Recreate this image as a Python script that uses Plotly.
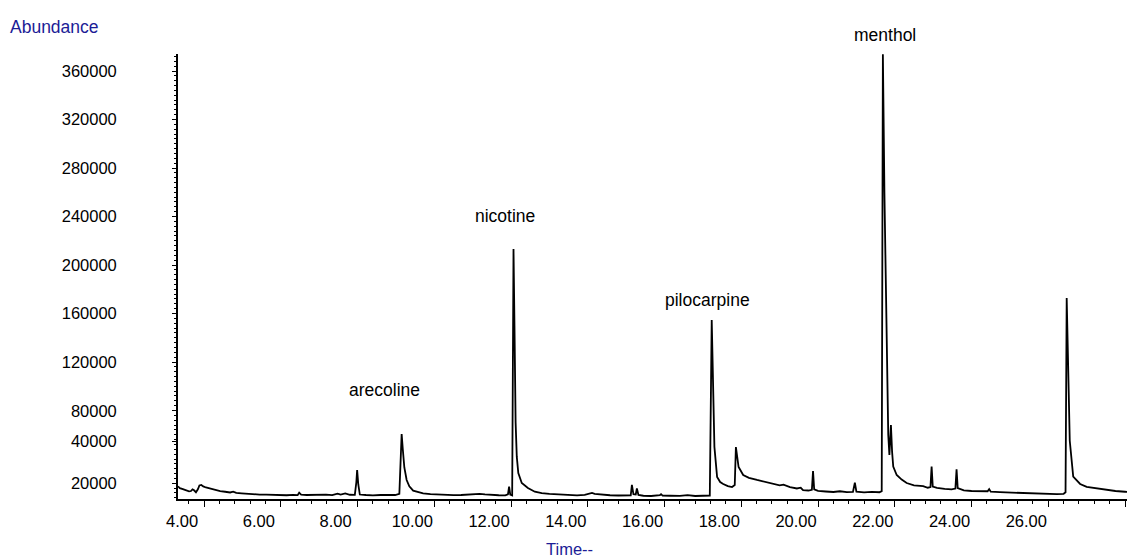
import plotly.graph_objects as go

# ---- data (retention time in min, abundance) ----
times = [
    3.32, 3.37, 3.43, 3.49, 3.55, 3.61, 3.66, 3.70, 3.74, 3.79, 3.84, 3.88, 3.93, 3.98,
    4.05, 4.12, 4.20, 4.30, 4.42, 4.55, 4.68, 4.76, 4.84, 4.98, 5.12, 5.28, 5.45, 5.62,
    5.80, 5.98, 6.15, 6.32, 6.44, 6.48, 6.53, 6.68, 6.85, 7.02, 7.18, 7.34, 7.48, 7.56,
    7.68, 7.80, 7.93, 7.97, 7.99, 8.02, 8.06, 8.22, 8.40, 8.60, 8.80, 8.98, 9.09, 9.12,
    9.15, 9.18, 9.22, 9.28, 9.35, 9.45, 9.58, 9.71, 9.90, 10.10, 10.30, 10.50, 10.70,
    10.90, 11.05, 11.18, 11.32, 11.50, 11.68, 11.85, 11.92, 11.95, 11.98, 12.03, 12.065,
    12.09, 12.12, 12.15, 12.19, 12.28, 12.44, 12.62, 12.80, 13.00, 13.28, 13.50, 13.72,
    13.92, 14.06, 14.11, 14.18, 14.36, 14.58, 14.80, 15.00, 15.12, 15.15, 15.19, 15.25,
    15.28, 15.32, 15.45, 15.65, 15.88, 15.91, 15.95, 16.15, 16.40, 16.60, 16.80, 17.00,
    17.18, 17.23, 17.26, 17.30, 17.37, 17.45, 17.53, 17.65, 17.76, 17.83, 17.86, 17.89,
    17.93, 18.05, 18.20, 18.41, 18.60, 18.83, 19.00, 19.10, 19.18, 19.27, 19.45, 19.55,
    19.61, 19.75, 19.84, 19.87, 19.90, 20.00, 20.20, 20.40, 20.57, 20.75, 20.91, 20.96,
    21.00, 21.20, 21.40, 21.60, 21.66, 21.69, 21.73, 21.78, 21.83, 21.86, 21.90, 21.93,
    21.96, 22.05, 22.18, 22.31, 22.50, 22.74, 22.86, 22.93, 22.96, 22.99, 23.10, 23.30,
    23.48, 23.58, 23.61, 23.64, 23.80, 24.00, 24.22, 24.42, 24.46, 24.50, 24.74, 25.00,
    25.28, 25.52, 25.80, 26.02, 26.22, 26.40, 26.45, 26.48, 26.51, 26.56, 26.65, 26.83,
    27.00, 27.17, 27.35, 27.53, 27.75, 28.00, 28.26,
]
abundance = [
    17500, 16000, 15300, 14500, 14100, 13300, 13600, 15000, 14200, 12600, 15000, 18200, 18600, 17400,
    16500, 15900, 15100, 14300, 13500, 13000, 12400, 13100, 12000, 11700, 11300, 11000, 10700, 10600,
    10300, 10500, 10100, 10400, 10200, 12300, 10700, 10300, 10500, 10100, 10600, 10200, 11400, 10700,
    11600, 10500, 10400, 21000, 30900, 19000, 10700, 10300, 10000, 10300, 10000, 10300, 11200, 30000,
    60600, 48000, 33000, 22700, 17500, 13900, 12600, 11700, 11000, 10600, 10400, 10200, 10300,
    10600, 11000, 11300, 10800, 10300, 10100, 10000, 10800, 17200, 10600, 10000, 213200,
    150000, 70000, 41900, 28400, 20200, 16100, 13000, 11800, 11200, 10600, 10200, 10000,
    10400, 11400, 12000, 11300, 10500, 10100, 9900, 9700, 10000, 18600, 11000, 10700,
    15800, 10300, 9700, 9500, 10100, 11000, 9800, 9700, 9600, 10200, 9500, 9700,
    9800, 154600, 100000, 50000, 25200, 21000, 19400, 17600, 16900, 18500, 49900, 42000,
    33400, 26800, 24500, 22700, 21300, 19400, 18200, 18900, 17800, 16900, 15700, 16300,
    14400, 14000, 14600, 30100, 15000, 13700, 13200, 12800, 13400, 12600, 12900, 20400,
    13000, 12500, 12900, 12600, 13500, 373800, 260000, 140000, 60000, 43300, 68000, 46000,
    33700, 26800, 23000, 20200, 18300, 17700, 16300, 16800, 33700, 17200, 16200, 15300,
    14900, 15600, 31500, 16000, 14200, 13600, 13200, 13400, 15200, 13000, 12600, 12300,
    11900, 11700, 11300, 11500, 11000, 11300, 12500, 172800, 120000, 55000, 25400, 19400,
    17000, 16100, 15200, 14400, 13600, 13000, 12200,
]

# peak names and where their labels sit (time, abundance)
peak_names = ["arecoline", "nicotine", "pilocarpine"]
peak_label_t = [8.69, 11.84, 17.13]
peak_label_y = [96900, 240400, 171100]
top_peak_name = "menthol"
top_peak_t = 21.75

x_tick_vals = [4, 6, 8, 10, 12, 14, 16, 18, 20, 22, 24, 26, 28]
x_tick_labels = ["4.00", "6.00", "8.00", "10.00", "12.00", "14.00", "16.00",
                 "18.00", "20.00", "22.00", "24.00", "26.00", ""]
y_tick_vals = [20000, 54845, 79600, 120000, 160000, 200000, 240000, 280000, 320000, 360000]
y_tick_labels = ["20000", "40000", "80000", "120000", "160000", "200000",
                 "240000", "280000", "320000", "360000"]

x_range = [3.322, 28.26]
y_range = [7010, 374020]

FONT = "Liberation Sans, Arial, sans-serif"
BLUE = "#1c1c96"

fig = go.Figure()
fig.add_trace(go.Scatter(
    x=times, y=abundance, mode="lines",
    line=dict(color="black", width=1.8),
    hoverinfo="skip", showlegend=False,
))

annotations = []
for name, t, y in zip(peak_names, peak_label_t, peak_label_y):
    annotations.append(dict(x=t, y=y, xref="x", yref="y", text=name, showarrow=False,
                            font=dict(family=FONT, size=17.5, color="black")))
annotations.append(dict(x=top_peak_t, y=1.0697, xref="x", yref="paper", text=top_peak_name,
                        showarrow=False, font=dict(family=FONT, size=17.5, color="black")))
annotations.append(dict(x=-0.178, y=1.0607, xref="paper", yref="paper", text="Abundance",
                        xanchor="left", yanchor="middle", showarrow=False,
                        font=dict(family=FONT, size=17.5, color=BLUE)))
annotations.append(dict(x=0.4086, y=-0.1124, xref="paper", yref="paper", text="Time--",
                        xanchor="center", yanchor="middle", showarrow=False,
                        font=dict(family=FONT, size=16.5, color=BLUE)))

# the page body has an 8px default margin, so the figure is 8px smaller
fig.update_layout(
    width=1127, height=552, autosize=False,
    margin=dict(l=170, r=0, t=46, b=61, pad=0),
    paper_bgcolor="white", plot_bgcolor="white",
    font=dict(family=FONT, size=16.5, color="black"),
    annotations=annotations,
    showlegend=False,
)
fig.update_xaxes(
    range=x_range, showgrid=False, zeroline=False,
    showline=True, linecolor="black", linewidth=1.5,
    tickmode="array", tickvals=x_tick_vals, ticktext=x_tick_labels,
    ticks="outside", ticklen=6, tickwidth=1.2, tickcolor="black",
    ticklabelshift=-22, ticklabelstandoff=0,
    tickfont=dict(family=FONT, size=16.5, color="black"),
    minor=dict(tickmode="linear", tick0=0, dtick=0.4, ticks="outside",
               ticklen=3, tickwidth=1, tickcolor="black"),
)
fig.update_yaxes(
    range=y_range, showgrid=False, zeroline=False,
    showline=True, linecolor="black", linewidth=1.8,
    tickmode="array", tickvals=y_tick_vals, ticktext=y_tick_labels,
    ticks="outside", ticklen=4, tickwidth=1.2, tickcolor="black",
    ticklabelstandoff=52,
    tickfont=dict(family=FONT, size=16.5, color="black"),
    minor=dict(tickmode="linear", tick0=0, dtick=4000, ticks="outside",
               ticklen=2, tickwidth=1, tickcolor="black"),
)

fig.write_html("out.html")
